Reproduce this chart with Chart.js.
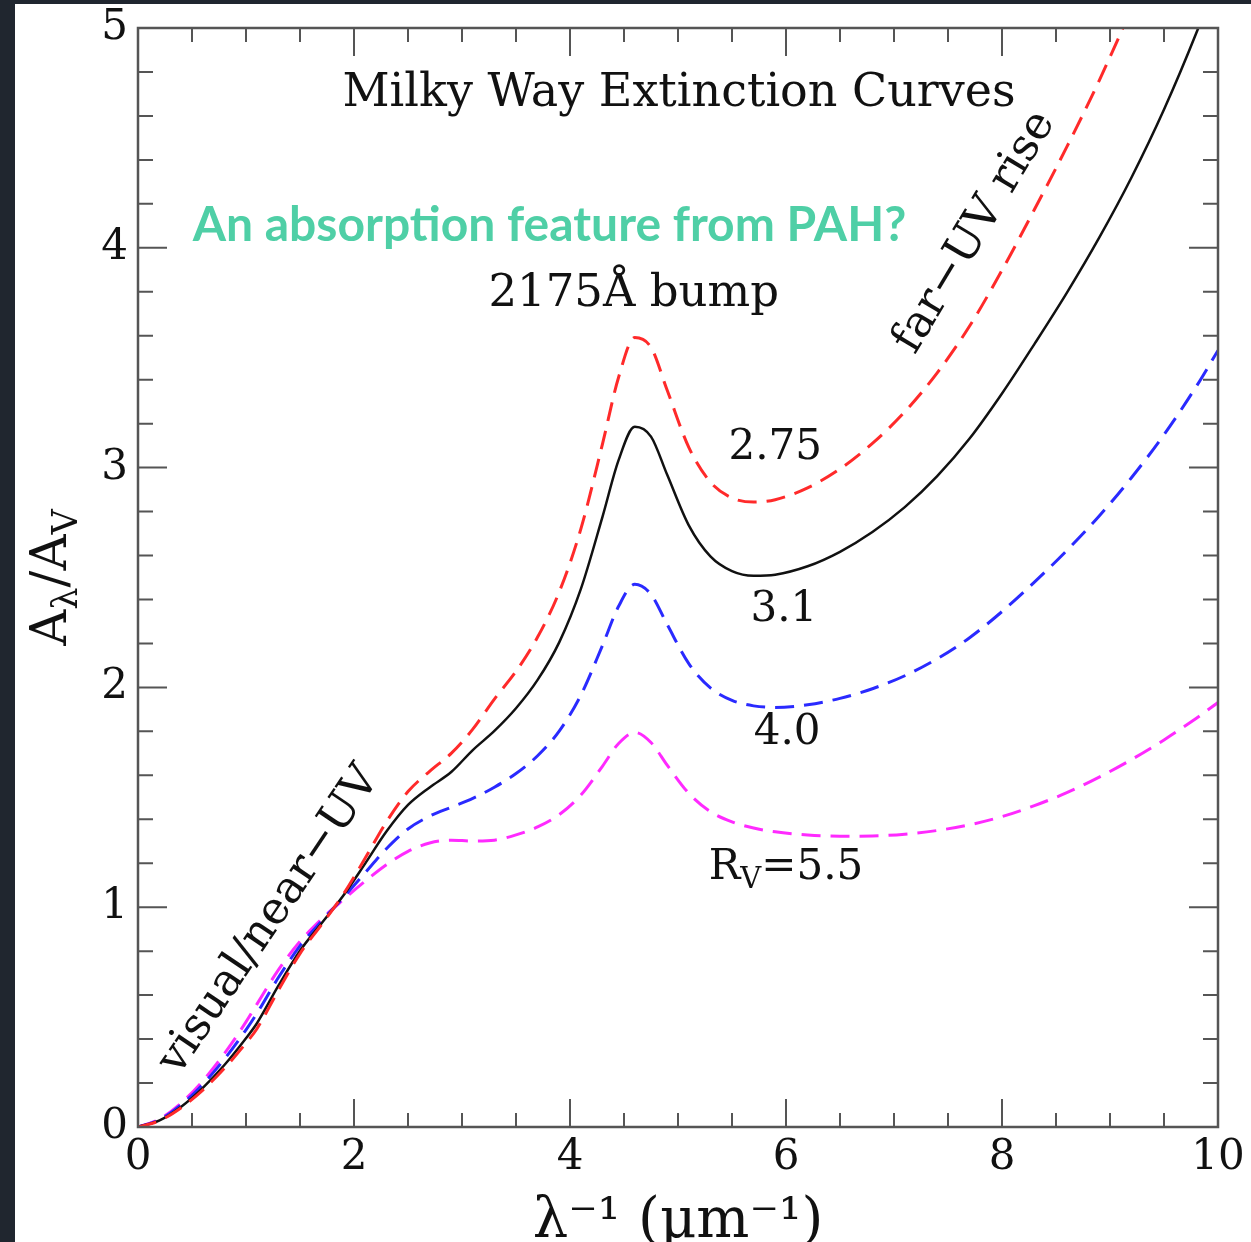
<!DOCTYPE html>
<html>
<head>
<meta charset="utf-8">
<title>Milky Way Extinction Curves</title>
<script src="https://cdn.jsdelivr.net/npm/chart.js@4.4.1/dist/chart.umd.min.js"></script>
<style>
  html, body { margin: 0; padding: 0; background: #20262f; }
  #panel { position: absolute; left: 15px; top: 4px; width: 1236px; height: 1238px; background: #fff; }
</style>
</head>
<body>
<div id="panel"><canvas id="chart"></canvas></div>
<script>
// inverse wavelength, micron^-1
const invWavelength = [0, 0.2, 0.4, 0.6, 0.8, 1.0, 1.1, 1.3, 1.5, 1.7, 1.9, 2.1, 2.3, 2.5, 2.7, 2.9, 3.1, 3.3,
  3.5, 3.7, 3.9, 4.1, 4.3, 4.45, 4.6, 4.75, 4.9, 5.1, 5.3, 5.5, 5.7, 5.9, 6.2, 6.5, 6.8, 7.1, 7.4, 7.7,
  8.0, 8.3, 8.6, 8.9, 9.2, 9.5, 9.8, 10];

// A_lambda / A_V
const rv275 = [0, 0.029, 0.088, 0.168, 0.267, 0.382, 0.446, 0.622, 0.789, 0.921, 1.058, 1.220, 1.388, 1.526,
  1.618, 1.700, 1.810, 1.947, 2.073, 2.229, 2.434, 2.720, 3.106, 3.411, 3.592, 3.547, 3.352, 3.092, 2.934,
  2.862, 2.843, 2.854, 2.908, 2.994, 3.110, 3.254, 3.431, 3.644, 3.898, 4.174, 4.459, 4.761, 5.093, 5.465,
  5.888, 6.203];
const rv31 = [0, 0.030, 0.092, 0.178, 0.282, 0.404, 0.471, 0.643, 0.802, 0.927, 1.052, 1.196, 1.344, 1.465,
  1.545, 1.615, 1.715, 1.802, 1.905, 2.034, 2.205, 2.447, 2.775, 3.034, 3.186, 3.141, 2.967, 2.737, 2.596,
  2.529, 2.508, 2.513, 2.551, 2.617, 2.707, 2.820, 2.961, 3.132, 3.337, 3.562, 3.795, 4.046, 4.321, 4.629,
  4.978, 5.238];
const rv40 = [0, 0.033, 0.101, 0.194, 0.309, 0.442, 0.516, 0.680, 0.824, 0.937, 1.043, 1.155, 1.266, 1.356,
  1.414, 1.455, 1.495, 1.546, 1.608, 1.689, 1.801, 1.964, 2.190, 2.369, 2.469, 2.423, 2.286, 2.108, 1.998,
  1.941, 1.916, 1.909, 1.921, 1.950, 1.994, 2.053, 2.130, 2.226, 2.345, 2.479, 2.623, 2.780, 2.955, 3.150,
  3.370, 3.533];
const rv55 = [0, 0.036, 0.109, 0.210, 0.334, 0.478, 0.558, 0.715, 0.844, 0.946, 1.034, 1.117, 1.193, 1.254,
  1.292, 1.305, 1.301, 1.305, 1.329, 1.365, 1.421, 1.510, 1.641, 1.745, 1.795, 1.749, 1.646, 1.518, 1.435,
  1.388, 1.360, 1.343, 1.329, 1.323, 1.324, 1.332, 1.349, 1.375, 1.412, 1.462, 1.521, 1.592, 1.672, 1.761,
  1.860, 1.931];

const xTicks = [0, 2, 4, 6, 8, 10];
const yTicks = [0, 1, 2, 3, 4, 5];

const SERIF = '"DejaVu Serif", "Liberation Serif", serif';
const INK = '#111';

const toPoints = (ys) => invWavelength.map((x, i) => ({ x: x, y: ys[i] }));

// ticks pointing into the box, on all four sides
const frameTicks = {
  id: 'frameTicks',
  afterDatasetsDraw(chart) {
    const { ctx, chartArea: a, scales: { x, y } } = chart;
    ctx.save();
    ctx.strokeStyle = '#555';
    ctx.lineWidth = 2.5;
    ctx.strokeRect(a.left, a.top, a.right - a.left, a.bottom - a.top);
    ctx.lineWidth = 2;
    ctx.beginPath();
    for (let i = 1; i < 20; i++) {
      const px = x.getPixelForValue(i / 2);
      const len = i % 4 === 0 ? 28 : 14;
      ctx.moveTo(px, a.bottom); ctx.lineTo(px, a.bottom - len);
      ctx.moveTo(px, a.top); ctx.lineTo(px, a.top + len);
    }
    for (let i = 1; i < 25; i++) {
      const py = y.getPixelForValue(i / 5);
      const len = i % 5 === 0 ? 29 : 15;
      ctx.moveTo(a.left, py); ctx.lineTo(a.left + len, py);
      ctx.moveTo(a.right, py); ctx.lineTo(a.right - len, py);
    }
    ctx.stroke();
    ctx.restore();
  }
};

// text with subscripts, parts = [[text, isSub], ...], centred on (0,0)
function drawParts(ctx, parts, size) {
  const subSize = Math.round(size * 0.7);
  const widths = parts.map(([t, sub]) => {
    ctx.font = (sub ? subSize : size) + 'px ' + SERIF;
    return ctx.measureText(t).width;
  });
  let cx = -widths.reduce((s, w) => s + w, 0) / 2;
  ctx.textAlign = 'left';
  parts.forEach(([t, sub], i) => {
    ctx.font = (sub ? subSize : size) + 'px ' + SERIF;
    ctx.fillText(t, cx, sub ? size * 0.3 : 0);
    cx += widths[i];
  });
}

const annotations = {
  id: 'annotations',
  afterDraw(chart) {
    const { ctx, chartArea: a, scales: { x, y } } = chart;
    const put = (text, vx, vy, size, rot, font, color) => {
      ctx.save();
      ctx.translate(x.getPixelForValue(vx), y.getPixelForValue(vy));
      ctx.rotate((rot || 0) * Math.PI / 180);
      ctx.font = font || (size + 'px ' + SERIF);
      ctx.fillStyle = color || INK;
      ctx.textAlign = 'center';
      ctx.textBaseline = 'middle';
      ctx.fillText(text, 0, 0);
      ctx.restore();
    };
    put('Milky Way Extinction Curves', 5.01, 4.70, 46);
    put('2175Å bump', 4.59, 3.79, 45);
    put('far−UV rise', 7.75, 4.07, 45, -59);
    put('visual/near−UV', 1.22, 0.94, 45, -56);
    put('2.75', 5.90, 3.09, 42);
    put('3.1', 5.98, 2.35, 42);
    put('4.0', 6.01, 1.79, 42);
    put('An absorption feature from PAH?', 3.81, 4.10, 0, 0, 'bold 48px Lato', '#4fcfa6');

    ctx.save();
    ctx.fillStyle = INK;
    ctx.textBaseline = 'middle';
    ctx.translate(x.getPixelForValue(6.0), y.getPixelForValue(1.18));
    drawParts(ctx, [['R', false], ['V', true], ['=5.5', false]], 42);
    ctx.restore();

    // y axis title
    ctx.save();
    ctx.fillStyle = INK;
    ctx.textBaseline = 'middle';
    ctx.translate(a.left - 85, y.getPixelForValue(2.5));
    ctx.rotate(-Math.PI / 2);
    drawParts(ctx, [['A', false], ['λ', true], ['/A', false], ['V', true]], 50);
    ctx.restore();
  }
};

new Chart(document.getElementById('chart'), {
  type: 'line',
  data: {
    datasets: [
      { label: 'R_V=2.75', data: toPoints(rv275), borderColor: '#ff2a2a', borderWidth: 3, borderDash: [19, 10] },
      { label: 'R_V=3.1', data: toPoints(rv31), borderColor: '#111111', borderWidth: 2.5 },
      { label: 'R_V=4.0', data: toPoints(rv40), borderColor: '#2a2aff', borderWidth: 3, borderDash: [19, 10] },
      { label: 'R_V=5.5', data: toPoints(rv55), borderColor: '#ff2aff', borderWidth: 3, borderDash: [19, 10] }
    ]
  },
  options: {
    responsive: true,
    maintainAspectRatio: false,
    animation: false,
    layout: { padding: { top: 24, right: 33, left: 0, bottom: 0 } },
    elements: {
      point: { radius: 0 },
      line: { cubicInterpolationMode: 'monotone', fill: false }
    },
    plugins: { legend: { display: false }, tooltip: { enabled: false } },
    scales: {
      x: {
        type: 'linear', min: 0, max: 10,
        grid: { display: false, drawTicks: false },
        border: { display: false },
        afterBuildTicks: (s) => { s.ticks = xTicks.map(v => ({ value: v })); },
        ticks: { autoSkip: false, maxRotation: 0, padding: 6, color: INK, font: { family: SERIF, size: 42 } },
        title: {
          display: true, text: 'λ⁻¹ (μm⁻¹)', color: INK,
          font: { family: SERIF, size: 56, lineHeight: 1 }, padding: { top: 0, bottom: -8 }
        },
        afterFit: (s) => { s.height = 115; }
      },
      y: {
        min: 0, max: 5,
        grid: { display: false, drawTicks: false },
        border: { display: false },
        afterBuildTicks: (s) => { s.ticks = yTicks.map(v => ({ value: v })); },
        ticks: { padding: 10, color: INK, font: { family: SERIF, size: 42, lineHeight: 0.6 } },
        afterFit: (s) => { s.width = 123; }
      }
    }
  },
  plugins: [frameTicks, annotations]
});
</script>
</body>
</html>
